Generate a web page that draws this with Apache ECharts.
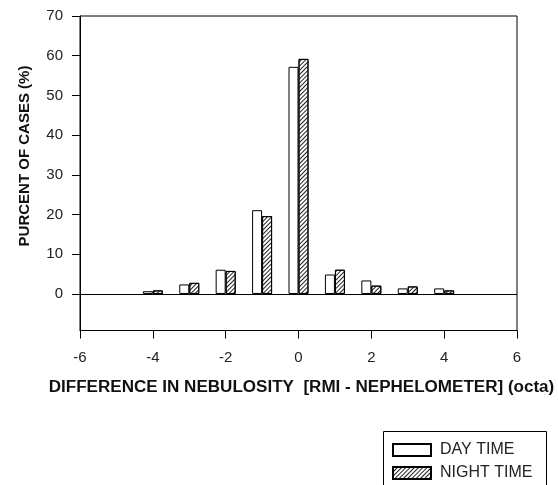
<!DOCTYPE html>
<html><head><meta charset="utf-8">
<script src="https://cdn.jsdelivr.net/npm/echarts@6/dist/echarts.min.js"></script>
<style>html,body{margin:0;padding:0;background:#fff}#c{width:558px;height:485px}</style>
</head><body><div id="c"></div>
<script>
const differences = [-4, -3, -2, -1, 0, 1, 2, 3, 4];
const dayTime = [0.7, 2.4, 6.1, 21.1, 57.2, 4.9, 3.4, 1.4, 1.4];
const nightTime = [0.9, 2.8, 5.8, 19.6, 59.2, 6.1, 2.1, 1.9, 0.9];
const yTickLabels = [0, 10, 20, 30, 40, 50, 60, 70];
const seriesNames = ['DAY TIME', 'NIGHT TIME'];
const xTitle = 'DIFFERENCE IN NEBULOSITY  [RMI - NEPHELOMETER] (octa)';
const yTitle = 'PURCENT OF CASES (%)';

const FONT = '"Liberation Sans", Arial, sans-serif';
const chart = echarts.init(document.getElementById('c'), null, {renderer: 'canvas'});
const hatch = {
  symbol: 'rect', symbolSize: 1, color: '#222',
  dashArrayX: [1, 0], dashArrayY: [1, 2], rotation: -Math.PI / 4
};
chart.setOption({
  animation: false,
  backgroundColor: '#fff',
  grid: {left: 80, right: 41, top: 16, bottom: 154.5, show: true, borderColor: '#000', borderWidth: 1, backgroundColor: 'transparent'},
  xAxis: {
    type: 'value', min: -6, max: 6, interval: 2,
    axisLine: {show: true, onZero: false, lineStyle: {color: '#000', width: 1}},
    axisTick: {show: true, length: 8, lineStyle: {color: '#000'}},
    axisLabel: {margin: 20, fontSize: 15, color: '#222', fontFamily: FONT},
    splitLine: {show: false}
  },
  yAxis: {
    type: 'value', min: -9.2, max: 70,
    axisLine: {show: true, onZero: false, lineStyle: {color: '#000', width: 1}},
    axisTick: {show: true, length: 8, lineStyle: {color: '#000'}, customValues: yTickLabels},
    axisLabel: {margin: 17, fontSize: 15, color: '#222', fontFamily: FONT, customValues: yTickLabels},
    splitLine: {show: false}
  },
  legend: {
    orient: 'vertical', left: 392, top: 442, padding: 0,
    itemWidth: 38, itemHeight: 12, itemGap: 7, icon: 'rect',
    textStyle: {fontSize: 16, color: '#222', fontFamily: FONT, padding: [0, 0, 0, 4]},
    data: seriesNames
  },
  series: [
    {
      name: seriesNames[0], type: 'bar', barWidth: 10, barGap: '0%',
      itemStyle: {color: '#fff', borderColor: '#000', borderWidth: 1},
      data: dayTime.map((v, i) => [differences[i], v]),
      markLine: {
        silent: true, symbol: ['none', 'none'], label: {show: false},
        lineStyle: {color: '#000', width: 1, type: 'solid'},
        data: [{yAxis: 0}]
      }
    },
    {
      name: seriesNames[1], type: 'bar', barWidth: 10, barGap: '0%',
      itemStyle: {color: '#fff', borderColor: '#000', borderWidth: 1, decal: hatch},
      data: nightTime.map((v, i) => [differences[i], v])
    }
  ],
  graphic: [
    {type: 'text', x: 25, y: 156, rotation: Math.PI / 2,
     style: {text: yTitle, align: 'center', verticalAlign: 'middle', fill: '#111', font: 'bold 15px ' + FONT}},
    {type: 'text', x: 301.5, y: 388, scaleX: 1.065,
     style: {text: xTitle, align: 'center', verticalAlign: 'middle', fill: '#111', font: 'bold 16px ' + FONT}},
    {type: 'rect', shape: {x: 383.5, y: 431.5, width: 163, height: 70},
     style: {fill: 'none', stroke: '#000', lineWidth: 1}}
  ]
});
</script></body></html>
